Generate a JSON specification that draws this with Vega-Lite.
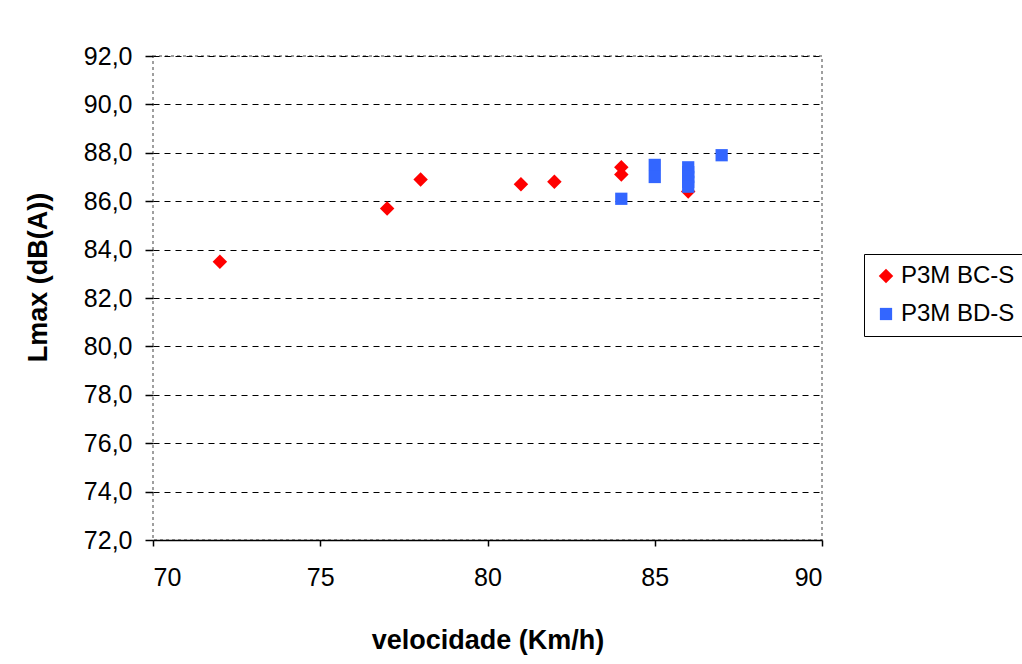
{
  "$schema": "https://vega.github.io/schema/vega-lite/v6.json",
  "width": 669,
  "height": 484,
  "autosize": {"type": "none"},
  "padding": {"left": 153, "top": 56, "right": 200, "bottom": 124},
  "background": "white",
  "config": {
    "font": "Liberation Sans",
    "locale": {"number": {"decimal": ",", "thousands": ".", "grouping": [3], "currency": ["", "€"]}},
    "view": {"stroke": "#808080", "strokeDash": [3, 3], "strokeWidth": 1.5}
  },
  "data": {
    "values": [
      {"v": 72, "L": 83.5, "s": "P3M BC-S"},
      {"v": 77, "L": 85.7, "s": "P3M BC-S"},
      {"v": 78, "L": 86.9, "s": "P3M BC-S"},
      {"v": 81, "L": 86.7, "s": "P3M BC-S"},
      {"v": 82, "L": 86.8, "s": "P3M BC-S"},
      {"v": 84, "L": 87.4, "s": "P3M BC-S"},
      {"v": 84, "L": 87.1, "s": "P3M BC-S"},
      {"v": 86, "L": 86.4, "s": "P3M BC-S"},
      {"v": 84, "L": 86.1, "s": "P3M BD-S"},
      {"v": 85, "L": 87.5, "s": "P3M BD-S"},
      {"v": 85, "L": 87.0, "s": "P3M BD-S"},
      {"v": 86, "L": 87.4, "s": "P3M BD-S"},
      {"v": 86, "L": 87.2, "s": "P3M BD-S"},
      {"v": 86, "L": 87.0, "s": "P3M BD-S"},
      {"v": 86, "L": 86.8, "s": "P3M BD-S"},
      {"v": 86, "L": 86.6, "s": "P3M BD-S"},
      {"v": 87, "L": 87.9, "s": "P3M BD-S"}
    ]
  },
  "mark": {"type": "point", "filled": true, "opacity": 1},
  "encoding": {
    "x": {
      "field": "v", "type": "quantitative",
      "scale": {"domain": [70, 90], "nice": false, "zero": false},
      "axis": {
        "values": [70, 75, 80, 85, 90], "grid": false, "format": "d",
        "title": "velocidade (Km/h)", "titleFontSize": 27, "titleFontWeight": "bold",
        "titleColor": "black", "titlePadding": 37,
        "labelFontSize": 25, "labelColor": "black", "labelPadding": 19,
        "domainColor": "black", "domainWidth": 1.5, "tickColor": "black", "tickSize": 6, "tickWidth": 1.5
      }
    },
    "y": {
      "field": "L", "type": "quantitative",
      "scale": {"domain": [72, 92], "nice": false, "zero": false},
      "axis": {
        "values": [72, 74, 76, 78, 80, 82, 84, 86, 88, 90, 92], "format": ".1f",
        "title": "Lmax (dB(A))", "titleFontSize": 27, "titleFontWeight": "bold",
        "titleColor": "black", "titlePadding": 31, "titleY": 221,
        "labelFontSize": 25, "labelColor": "black", "labelPadding": 13,
        "domain": false, "tickColor": "black", "tickSize": 8, "tickWidth": 1.5,
        "grid": true, "gridColor": "black", "gridDash": [6, 5], "gridWidth": 1
      }
    },
    "color": {
      "field": "s", "type": "nominal",
      "scale": {"domain": ["P3M BC-S", "P3M BD-S"], "range": ["#FF0000", "#3366FF"]},
      "legend": {
        "title": null, "orient": "none", "legendX": 711, "legendY": 198,
        "strokeColor": "black", "padding": 10, "labelFontSize": 24, "labelColor": "black",
        "symbolSize": 110, "rowPadding": 14, "labelLimit": 300, "labelOffset": 3
      }
    },
    "shape": {
      "field": "s", "type": "nominal",
      "scale": {"domain": ["P3M BC-S", "P3M BD-S"], "range": ["diamond", "square"]}
    },
    "size": {
      "field": "s", "type": "nominal",
      "scale": {"domain": ["P3M BC-S", "P3M BD-S"], "range": [210, 150]},
      "legend": null
    }
  }
}
